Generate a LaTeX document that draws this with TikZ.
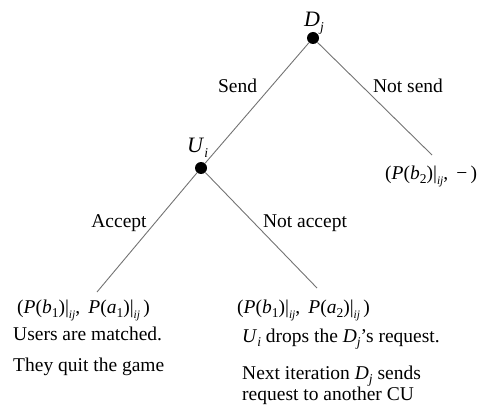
\documentclass[tikz,border=0pt]{standalone}
\usepackage{fontspec}
\setmainfont{Liberation Serif}
% italic variable and subscript helpers
\newcommand\vi[1]{\textit{#1}}
\newcommand\lo[1]{\raisebox{-0.22em}{\fontsize{13.5}{14}\selectfont #1}}
\newcommand\los[1]{\raisebox{-0.3em}{\fontsize{11.5}{12}\selectfont #1}}
\begin{document}
\begin{tikzpicture}[x=1pt,y=-1pt,
  font=\fontsize{19.5}{22}\selectfont,
  dot/.style={circle,fill=black,inner sep=0pt,minimum size=12pt},
  branch/.style={draw=black!55,line width=0.9pt},
  txt/.style={anchor=base west,inner sep=0pt},
  lbl/.style={anchor=base,inner sep=0pt},
  player/.style={anchor=base west,inner sep=0pt,font=\fontsize{22}{24}\selectfont}]
\useasboundingbox (0,0) rectangle (489,406);

% decision nodes
\node[dot] (dj) at (313,38) {};
\node[dot] (ui) at (201,168) {};
\node[player] (djl) at (304,27) {\vi{D}\lo{\vi{j}}};
\node[player] (uil) at (187,153) {\vi{U}\lo{\vi{i}}};

% leaf ends
\coordinate (ns) at (432,155);
\coordinate (acc) at (97,292);
\coordinate (nac) at (317,288);

% branches
\draw[branch] (dj) -- (ui);
\draw[branch] (dj) -- (ns);
\draw[branch] (ui) -- (acc);
\draw[branch] (ui) -- (nac);

% branch labels
\node[lbl] (send) at (237.5,93) {Send};
\node[lbl] (nsend) at (408,93) {Not send};
\node[lbl] (accept) at (119,227) {Accept};
\node[lbl] (naccept) at (305,227) {Not accept};

% payoffs
\node[txt] (p3) at (385,179) {(\vi{P}(\vi{b}\lo{2})|\los{\vi{ij}}, \,−\,)};
\node[txt] (p1) at (17,313) {(\vi{P}(\vi{b}\lo{1})|\los{\vi{ij}}, \,\vi{P}(\vi{a}\lo{1})|\los{\vi{ij}}\,)};
\node[txt] (p2) at (237,313) {(\vi{P}(\vi{b}\lo{1})|\los{\vi{ij}}, \,\vi{P}(\vi{a}\lo{2})|\los{\vi{ij}}\,)};

% outcome notes
\node[txt] (m1) at (13,340) {Users are matched.};
\node[txt] (m2) at (13,371) {They quit the game};
\node[txt] (n1) at (242,342) {\vi{U}\lo{\vi{i}} drops the \vi{D}\lo{\vi{j}}’s request.};
\node[txt] (n2) at (242,379) {Next iteration \vi{D}\lo{\vi{j}} sends};
\node[txt] (n3) at (242,400) {request to another CU};
\end{tikzpicture}
\end{document}
